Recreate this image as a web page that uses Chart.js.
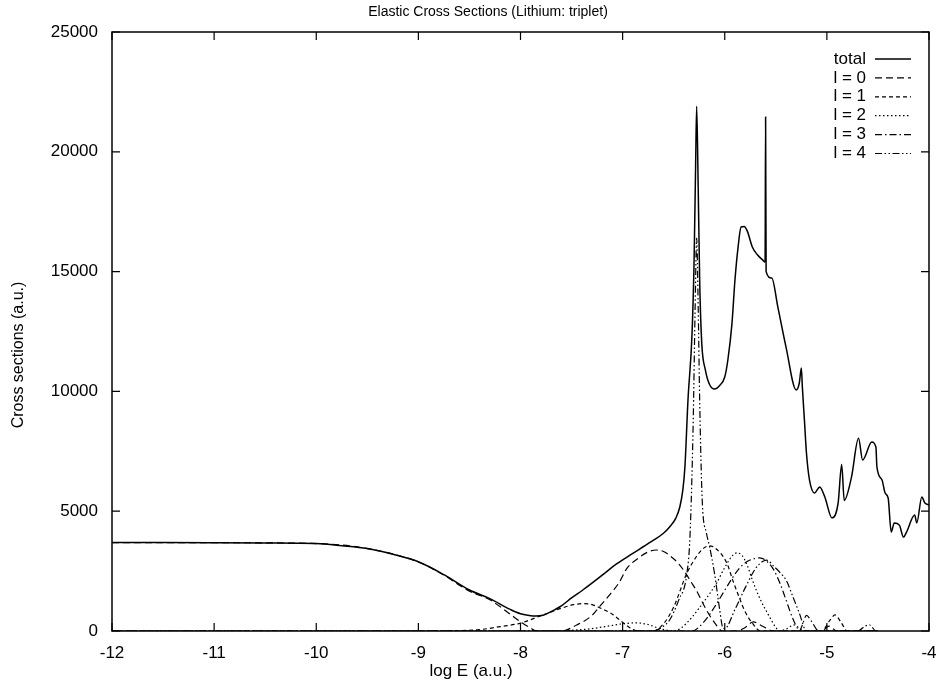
<!DOCTYPE html>
<html>
<head>
<meta charset="utf-8">
<script src="https://cdn.jsdelivr.net/npm/chart.js@4.4.1/dist/chart.umd.min.js"></script>
<style>
  html, body { margin: 0; padding: 0; background: #fff; }
  canvas { display: block; }
</style>
</head>
<body>
<canvas id="c" width="936" height="683"></canvas>
<script>
// values: [log E, cross section]
const xTicks = [-12, -11, -10, -9, -8, -7, -6, -5, -4];
const yTicks = [0, 5000, 10000, 15000, 20000, 25000];
const labels = ['total', 'l = 0', 'l = 1', 'l = 2', 'l = 3', 'l = 4'];

const total = [
  [-12, 3690], [-11.5, 3690], [-11, 3685], [-10.5, 3675], [-10, 3650], [-9.75, 3560],
  [-9.5, 3440], [-9.25, 3200], [-9, 2890], [-8.75, 2350], [-8.5, 1710], [-8.3, 1350],
  [-8.1, 900], [-8.0, 720], [-7.9, 640], [-7.85, 630], [-7.78, 660], [-7.71, 790],
  [-7.6, 1050], [-7.5, 1380], [-7.39, 1711], [-7.2, 2330], [-7.06, 2800], [-6.9, 3240],
  [-6.74, 3673], [-6.6, 4080], [-6.54, 4341], [-6.48, 4700], [-6.44, 5176], [-6.41, 5900],
  [-6.39, 6845], [-6.36, 9642], [-6.32, 12438], [-6.30, 15500], [-6.285, 19500],
  [-6.275, 21900], [-6.26, 18500], [-6.245, 14500], [-6.225, 12000], [-6.19, 10900],
  [-6.15, 10300], [-6.10, 10100], [-6.05, 10250], [-6.0, 10600], [-5.97, 11300],
  [-5.93, 12800], [-5.90, 14650], [-5.87, 16000], [-5.84, 16860], [-5.81, 16880],
  [-5.78, 16700], [-5.73, 16030], [-5.68, 15700], [-5.63, 15490], [-5.605, 15400],
  [-5.60, 21450], [-5.595, 15000], [-5.54, 14730], [-5.48, 13520], [-5.40, 11850],
  [-5.30, 10060], [-5.27, 10350], [-5.25, 10980], [-5.24, 10180], [-5.22, 8810],
  [-5.20, 7430], [-5.17, 6300], [-5.12, 5760], [-5.07, 6010], [-5.02, 5590],
  [-4.95, 4720], [-4.89, 5340], [-4.855, 6950], [-4.83, 5450], [-4.76, 6400],
  [-4.69, 8040], [-4.65, 7140], [-4.56, 7890], [-4.52, 7680], [-4.51, 6850],
  [-4.46, 6300], [-4.43, 5760], [-4.40, 5550], [-4.37, 4130], [-4.34, 4510],
  [-4.29, 4420], [-4.25, 3920], [-4.22, 4130], [-4.14, 4840], [-4.12, 4510],
  [-4.07, 5590], [-4.04, 5340], [-4.00, 5260]
];

const l0 = [
  [-12, 3690], [-11, 3685], [-10, 3650], [-9.5, 3440], [-9, 2880], [-8.75, 2330],
  [-8.5, 1660], [-8.3, 1300], [-8.1, 700], [-8.0, 380], [-7.9, 120], [-7.84, 0],
  [-7.6, 0], [-7.45, 250], [-7.3, 650], [-7.22, 1050], [-7.1, 1650], [-7.03, 2050],
  [-6.96, 2600], [-6.83, 3090], [-6.75, 3300], [-6.67, 3380], [-6.6, 3320],
  [-6.51, 3050], [-6.45, 2800], [-6.39, 2460], [-6.33, 2050], [-6.28, 1710],
  [-6.18, 880], [-6.1, 350], [-6.02, 0], [-5.88, 0], [-5.8, 150], [-5.72, 380],
  [-5.64, 220], [-5.52, 0], [-5.05, 0], [-4.98, 200], [-4.9, 0], [-4.5, 0]
];

const l1 = [
  [-12, 0], [-9, 0], [-8.7, 10], [-8.4, 60], [-8.2, 180], [-8.0, 330], [-7.78, 670],
  [-7.6, 950], [-7.48, 1100], [-7.39, 1140], [-7.3, 1100], [-7.22, 960], [-7.1, 700],
  [-7.03, 460], [-6.95, 200], [-6.9, 60], [-6.85, 0], [-6.7, 0], [-6.6, 300],
  [-6.5, 1000], [-6.37, 2420], [-6.27, 3150], [-6.2, 3480], [-6.15, 3550],
  [-6.1, 3480], [-5.98, 2840], [-5.92, 2100], [-5.86, 1420], [-5.8, 800],
  [-5.73, 330], [-5.65, 0], [-5.05, 0], [-4.97, 450], [-4.92, 670], [-4.86, 350],
  [-4.8, 0], [-4.5, 0]
];

const l2 = [
  [-12, 0], [-7.7, 0], [-7.5, 30], [-7.3, 100], [-7.15, 200], [-7.0, 300],
  [-6.87, 340], [-6.75, 270], [-6.65, 120], [-6.55, 20], [-6.5, 0], [-6.42, 150],
  [-6.32, 580], [-6.2, 1250], [-6.08, 2000], [-6.0, 2650], [-5.92, 3170],
  [-5.88, 3260], [-5.83, 3150], [-5.78, 2750], [-5.73, 2130], [-5.65, 1300],
  [-5.56, 580], [-5.5, 150], [-5.46, 0], [-5.4, 80], [-5.32, 250], [-5.25, 60],
  [-5.2, 0], [-4.5, 0]
];

const l3 = [
  [-12, 0], [-6.32, 0], [-6.2, 400], [-6.1, 1000], [-6.0, 1700], [-5.92, 2250],
  [-5.85, 2650], [-5.78, 2900], [-5.7, 3030], [-5.66, 3050], [-5.6, 2950],
  [-5.52, 2550], [-5.46, 2000], [-5.4, 1300], [-5.34, 580], [-5.28, 50],
  [-5.27, 0], [-5.24, 250], [-5.2, 650], [-5.15, 400], [-5.08, 0], [-4.5, 0]
];

const l4 = [
  [-12, 0], [-6.7, 0], [-6.6, 200], [-6.54, 460], [-6.45, 1300], [-6.37, 2420],
  [-6.34, 4000], [-6.31, 8500], [-6.29, 13500], [-6.275, 16400], [-6.26, 13500],
  [-6.245, 9500], [-6.22, 5400], [-6.18, 4100], [-6.15, 3550], [-6.1, 2400],
  [-6.05, 900], [-6.02, 150], [-6.0, 100], [-5.9, 900], [-5.8, 1800], [-5.7, 2600],
  [-5.63, 2900], [-5.59, 2960], [-5.52, 2700], [-5.45, 2400], [-5.4, 2130],
  [-5.33, 1400], [-5.27, 750], [-5.2, 0], [-4.7, 0], [-4.62, 220], [-4.58, 250],
  [-4.52, 0], [-4.5, 0]
];

const series = [total, l0, l1, l2, l3, l4];
const dashes = [[], [7, 4], [4, 3], [1.5, 2.5], [7, 3, 1.5, 3], [7, 2.5, 1.5, 2.5, 1.5, 2.5]];
const widths = [1.5, 1.2, 1.2, 1.2, 1.2, 1.2];

const FONT = '"Liberation Sans", Arial, Helvetica, sans-serif';

// gnuplot-like frame, inward ticks, titles and legend
const frame = {
  id: 'frame',
  afterDraw(chart) {
    const { ctx, chartArea: a, scales: { x, y } } = chart;
    ctx.save();
    ctx.strokeStyle = '#000';
    ctx.lineWidth = 1.5;
    ctx.setLineDash([]);
    ctx.strokeRect(a.left, a.top, a.right - a.left, a.bottom - a.top);

    ctx.lineWidth = 1.2;
    ctx.beginPath();
    x.ticks.forEach(t => {
      const px = x.getPixelForValue(t.value);
      ctx.moveTo(px, a.bottom); ctx.lineTo(px, a.bottom - 8);
      ctx.moveTo(px, a.top); ctx.lineTo(px, a.top + 8);
    });
    y.ticks.forEach(t => {
      const py = y.getPixelForValue(t.value);
      ctx.moveTo(a.left, py); ctx.lineTo(a.left + 8, py);
      ctx.moveTo(a.right, py); ctx.lineTo(a.right - 8, py);
    });
    ctx.stroke();

    ctx.fillStyle = '#000';
    ctx.textAlign = 'center';
    ctx.textBaseline = 'middle';
    ctx.font = '14px ' + FONT;
    ctx.fillText('Elastic Cross Sections (Lithium: triplet)', 488, 12);
    ctx.font = '17px ' + FONT;
    ctx.fillText('log E (a.u.)', 471, 671);
    ctx.font = '16px ' + FONT;
    ctx.save();
    ctx.translate(19, 355);
    ctx.rotate(-Math.PI / 2);
    ctx.fillText('Cross sections (a.u.)', 0, 0);
    ctx.restore();

    // legend
    ctx.font = '17px ' + FONT;
    ctx.textAlign = 'right';
    chart.data.datasets.forEach((ds, i) => {
      const ly = 59 + i * 18.9;
      ctx.fillText(ds.label, 866, ly);
      ctx.lineWidth = ds.borderWidth;
      ctx.setLineDash(ds.borderDash);
      ctx.beginPath();
      ctx.moveTo(875, ly);
      ctx.lineTo(911, ly);
      ctx.stroke();
    });
    ctx.restore();
  }
};

const datasets = series.map((s, i) => ({
  label: labels[i],
  data: s.map(p => ({ x: p[0], y: p[1] })),
  borderColor: '#000',
  borderWidth: widths[i],
  borderDash: dashes[i],
  pointRadius: 0,
  fill: false,
  cubicInterpolationMode: 'monotone'
}));

new Chart(document.getElementById('c'), {
  type: 'line',
  data: { datasets },
  options: {
    responsive: false,
    animation: false,
    devicePixelRatio: 1,
    layout: { padding: { top: 32, right: 7, left: 0, bottom: 0 } },
    plugins: { legend: { display: false }, title: { display: false }, tooltip: { enabled: false } },
    scales: {
      x: {
        type: 'linear', min: -12, max: -4,
        afterBuildTicks: s => { s.ticks = xTicks.map(v => ({ value: v })); },
        afterFit: s => { s.height = 52; s.paddingLeft = 0; s.paddingRight = 0; },
        grid: { display: false, drawTicks: false },
        border: { display: false },
        ticks: { color: '#000', padding: 12, font: { size: 17, family: FONT }, callback: v => String(v) }
      },
      y: {
        type: 'linear', min: 0, max: 25000,
        afterBuildTicks: s => { s.ticks = yTicks.map(v => ({ value: v })); },
        afterFit: s => { s.width = 112; s.paddingTop = 0; s.paddingBottom = 0; },
        grid: { display: false, drawTicks: false },
        border: { display: false },
        ticks: { color: '#000', padding: 14, font: { size: 17, family: FONT }, callback: v => String(v) }
      }
    }
  },
  plugins: [frame]
});
</script>
</body>
</html>
